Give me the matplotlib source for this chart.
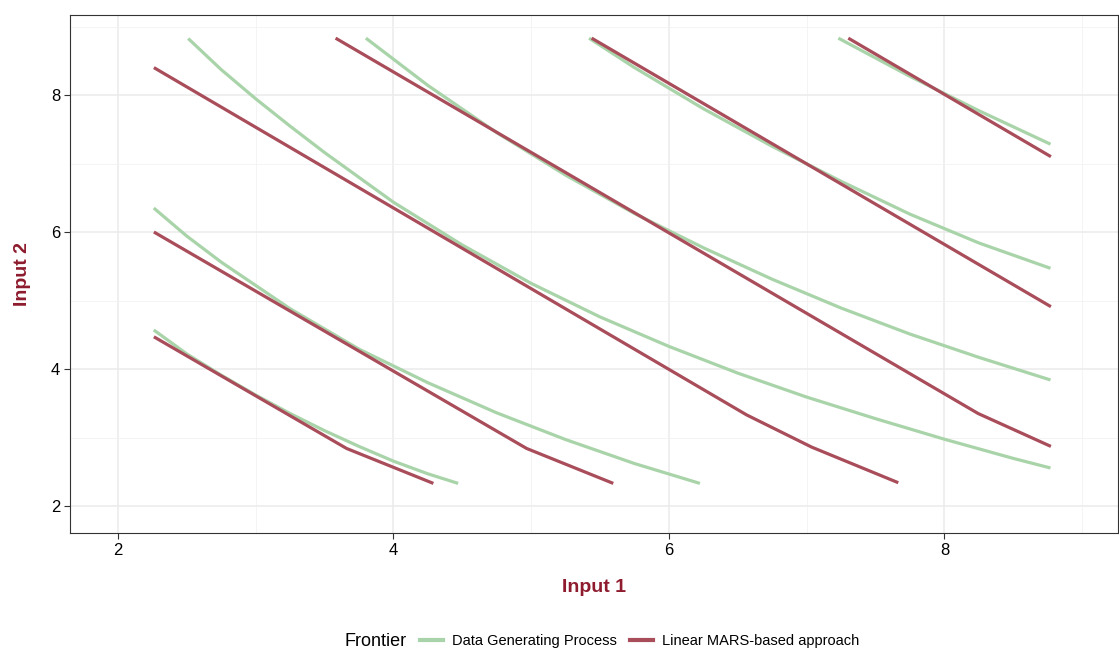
import matplotlib.pyplot as plt
import numpy as np

plt.rcParams['font.family'] = ['Liberation Sans', 'DejaVu Sans']

# isoquants of the data generating process (input 1, input 2)
dgp_x1 = [
    [2.26, 2.50, 2.75, 3.00, 3.25, 3.50, 3.75, 4.00, 4.25, 4.47],
    [2.26, 2.50, 2.75, 3.25, 3.75, 4.25, 4.75, 5.25, 5.75, 6.225],
    [2.51, 2.75, 3.00, 3.25, 3.50, 4.00, 4.50, 5.00, 5.50, 6.00, 6.50, 7.00, 7.50, 8.00, 8.50, 8.77],
    [3.80, 4.25, 4.75, 5.25, 5.75, 6.25, 6.75, 7.25, 7.75, 8.25, 8.77],
    [5.42, 5.75, 6.25, 6.75, 7.25, 7.75, 8.25, 8.77],
    [7.23, 7.75, 8.25, 8.77],
]
dgp_x2 = [
    [4.57, 4.22, 3.91, 3.62, 3.35, 3.10, 2.87, 2.655, 2.47, 2.33],
    [6.35, 5.94, 5.56, 4.88, 4.29, 3.80, 3.36, 2.97, 2.62, 2.33],
    [8.825, 8.37, 7.945, 7.545, 7.16, 6.435, 5.81, 5.25, 4.76, 4.33, 3.94, 3.59, 3.275, 2.975, 2.695, 2.555],
    [8.83, 8.14, 7.45, 6.83, 6.27, 5.77, 5.31, 4.89, 4.51, 4.17, 3.84],
    [8.83, 8.40, 7.80, 7.25, 6.74, 6.26, 5.84, 5.47],
    [8.83, 8.272, 7.771, 7.282],
]

# piecewise linear frontier estimated with MARS
mars_x1 = [
    [2.261, 3.66, 4.29],
    [2.261, 4.967, 5.596],
    [2.261, 6.564, 7.036, 7.665],
    [3.58, 8.245, 8.773],
    [5.439, 8.773],
    [7.302, 8.773],
]
mars_x2 = [
    [4.47, 2.84, 2.33],
    [6.00, 2.84, 2.33],
    [8.40, 3.33, 2.86, 2.34],
    [8.83, 3.35, 2.87],
    [8.83, 4.91],
    [8.83, 7.10],
]

green = '#a9d4a9'
red = '#a94d5b'
title_red = '#8e1b2e'

fig = plt.figure(figsize=(11.19, 6.48), dpi=100)
ax = fig.add_axes([70 / 1119, 1 - 533 / 648, 1048 / 1119, 518 / 648])

for xs, ys in zip(dgp_x1, dgp_x2):
    ax.plot(xs, ys, color=green, lw=2.3, solid_capstyle='butt', zorder=3)
for xs, ys in zip(mars_x1, mars_x2):
    ax.plot(xs, ys, color=red, lw=2.3, solid_capstyle='butt', zorder=4)

ax.set_xlim(1.652, 9.26)
ax.set_ylim(1.606, 9.168)
ax.set_xticks([2, 4, 6, 8])
ax.set_yticks([2, 4, 6, 8])
ax.set_xticks([3, 5, 7, 9], minor=True)
ax.set_yticks([3, 5, 7, 9], minor=True)
ax.grid(which='major', color='#ebebeb', lw=1.1)
ax.grid(which='minor', color='#f2f2f2', lw=0.6)
ax.set_axisbelow(True)
ax.tick_params(which='major', length=4, width=0.8, color='#333333',
               labelsize=12, labelcolor='black', pad=3)
ax.tick_params(which='minor', length=0)
for s in ax.spines.values():
    s.set_color('#333333')
    s.set_linewidth(0.8)

ax.set_xlabel('Input 1', fontsize=14, fontweight='bold', color=title_red, labelpad=15)
ax.set_ylabel('Input 2', fontsize=14, fontweight='bold', color=title_red, labelpad=14)

# legend along the bottom edge
leg_y = 1 - 641 / 648
fig.text(345 / 1119, leg_y, 'Frontier', fontsize=13, va='center', ha='left')
handles = [plt.Line2D([], [], color=green, lw=3), plt.Line2D([], [], color=red, lw=3)]
fig.legend(handles, ['Data Generating Process', 'Linear MARS-based approach'],
           loc='center left', bbox_to_anchor=(420 / 1119, leg_y), ncol=2,
           frameon=False, fontsize=10.5, handlelength=1.6, handletextpad=0.6,
           columnspacing=0.9, borderpad=0, borderaxespad=0)

fig.savefig('out.png', dpi=100)
